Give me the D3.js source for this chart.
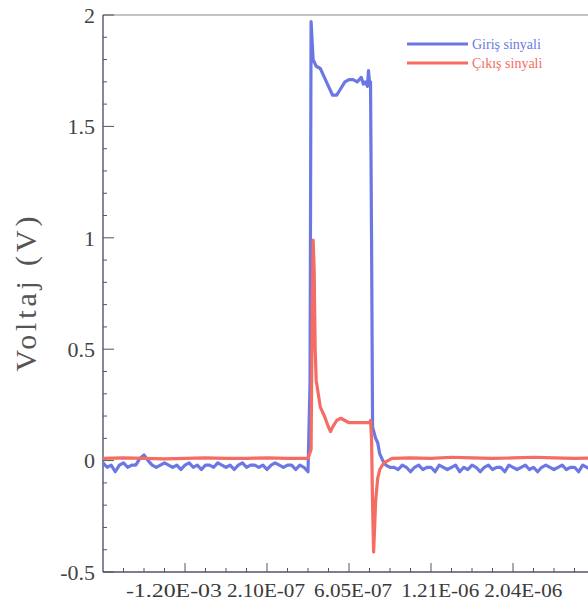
<!DOCTYPE html>
<html>
<head>
<meta charset="utf-8">
<script src="https://cdn.jsdelivr.net/npm/d3@7"></script>
<style>
  body { margin: 0; background: #fff; }
</style>
</head>
<body>
<script>
// sample index (time) and voltage for the input signal
const girisT = [0,2,4,6,8,10,12,14,16,18,20,22,24,26,28,30,32,34,36,38,40,42,44,46,48,50,52,54,56,58,60,62,64,66,68,70,72,74,76,78,80,82,84,86,88,90,92,94,96,98,100,
  101,101.5,102.5,104,106,108,110,112,114,116,118,120,122,124,126,127,128,129,129.5,130,130.5,131,131.5,133,134,135,136.5,138,140,
  142,144,146,148,150,152,154,156,158,160,162,164,166,168,170,172,174,176,178,180,182,184,186,188,190,192,194,196,198,200,202,204,206,208,210,212,214,216,218,220,222,224,226,228,230,232,234,236,238,240];
const girisV = [-0.01,-0.03,-0.02,-0.05,-0.02,-0.01,-0.03,-0.02,-0.02,0.01,
  0.025,0.0,-0.02,-0.03,-0.02,-0.01,-0.02,-0.03,-0.02,-0.04,
  -0.02,-0.01,-0.03,-0.02,-0.04,-0.02,-0.02,-0.03,-0.01,-0.02,
  -0.03,-0.02,-0.04,-0.02,-0.01,-0.03,-0.02,-0.02,-0.03,-0.02,
  -0.04,-0.02,-0.01,-0.02,-0.03,-0.02,-0.02,-0.04,-0.02,-0.03,-0.05,
  0.35,1.97,1.80,1.77,1.76,1.72,1.68,1.64,1.64,1.67,1.70,1.71,1.71,1.70,1.72,1.69,1.70,1.68,1.75,1.70,1.70,1.00,0.15,0.10,0.08,0.03,0.0,-0.02,-0.03,
  -0.03,-0.04,-0.02,-0.03,-0.05,-0.03,-0.02,-0.04,-0.03,-0.03,
  -0.05,-0.02,-0.03,-0.04,-0.03,-0.02,-0.05,-0.03,-0.04,-0.02,
  -0.03,-0.05,-0.03,-0.02,-0.04,-0.03,-0.03,-0.05,-0.02,-0.03,
  -0.04,-0.03,-0.02,-0.04,-0.03,-0.05,-0.03,-0.02,-0.03,-0.04,
  -0.03,-0.02,-0.04,-0.03,-0.03,-0.05,-0.02,-0.03,-0.04,-0.03];

// output signal
const cikisT = [0,10,20,30,40,50,60,70,80,90,100,
  101.5,102,102.5,103,103.5,104,105,106,107,108,110,111,112,114,116,118,120,124,128,130,130.5,131,131.5,132,132.5,133,134,135,137,139,141,
  150,160,170,180,190,200,210,220,230,240];
const cikisV = [0.01,0.012,0.01,0.008,0.01,0.012,0.01,0.01,0.012,0.01,0.01,
  0.05,0.6,0.99,0.86,0.5,0.36,0.30,0.24,0.22,0.20,0.15,0.13,0.15,0.18,0.19,0.18,0.17,0.17,0.17,0.17,0.18,0.10,-0.20,-0.41,-0.30,-0.18,-0.08,-0.04,-0.01,0.0,0.01,
  0.012,0.01,0.015,0.012,0.01,0.012,0.015,0.012,0.01,0.012];

const xLabels = ["-1.20E-03", "2.10E-07", "6.05E-07", "1.21E-06", "2.04E-06"];
const xLabelAt = [34.6, 79.5, 122, 164.5, 205];
const yTicks = [-0.5, 0, 0.5, 1, 1.5, 2];
const seriesNames = ["Giriş sinyali", "Çıkış sinyali"];

const width = 588, height = 609;
const blue = "#6b78e4", red = "#f46c62";
const serif = "'Liberation Serif', 'Times New Roman', Times, serif";

const svg = d3.select("body").append("svg")
    .attr("width", width)
    .attr("height", height)
    .attr("font-family", serif);

const x = d3.scaleLinear().domain([0, 240]).range([103, 595]);
const y = d3.scaleLinear().domain([-0.5, 2]).range([572, 15]);

// frame top line
svg.append("line")
    .attr("x1", x(0)).attr("x2", width)
    .attr("y1", y(2)).attr("y2", y(2))
    .attr("stroke", "#8a8a8a").attr("stroke-width", 1.2);

// y axis, ticks pointing inward
const yMinor = d3.range(-0.5, 2.001, 0.1);
svg.append("g")
    .selectAll("line")
    .data(yMinor)
    .enter().append("line")
    .attr("x1", x(0))
    .attr("x2", (d) => x(0) + (Math.abs(d * 2 - Math.round(d * 2)) < 1e-6 ? 11 : 4))
    .attr("y1", (d) => y(d)).attr("y2", (d) => y(d))
    .attr("stroke", "#555").attr("stroke-width", 1);

svg.append("line")
    .attr("x1", x(0)).attr("x2", x(0))
    .attr("y1", y(2)).attr("y2", y(-0.5))
    .attr("stroke", "#4e5570").attr("stroke-width", 1.4);

svg.append("g")
    .selectAll("text")
    .data(yTicks)
    .enter().append("text")
    .attr("x", 95)
    .attr("y", (d) => y(d))
    .attr("dy", "0.35em")
    .attr("text-anchor", "end")
    .attr("font-size", 22)
    .attr("fill", "#444")
    .text((d) => d);

// x axis, ticks pointing up
const xMinor = d3.range(10, 241, 10);
svg.append("g")
    .selectAll("line")
    .data(xMinor)
    .enter().append("line")
    .attr("x1", (d) => x(d)).attr("x2", (d) => x(d))
    .attr("y1", y(-0.5))
    .attr("y2", (d) => y(-0.5) - (d % 40 === 0 ? 9 : 4))
    .attr("stroke", "#555").attr("stroke-width", 1);

svg.append("line")
    .attr("x1", x(0)).attr("x2", width)
    .attr("y1", y(-0.5)).attr("y2", y(-0.5))
    .attr("stroke", "#4e5570").attr("stroke-width", 1.4);

svg.append("g")
    .selectAll("text")
    .data(xLabels)
    .enter().append("text")
    .attr("x", (d, i) => x(xLabelAt[i]))
    .attr("y", 597)
    .attr("text-anchor", "middle")
    .attr("font-size", 19)
    .attr("fill", "#3a3a3a")
    .attr("textLength", (d) => d.length > 8 ? 96 : 78)
    .attr("lengthAdjust", "spacingAndGlyphs")
    .text((d) => d);

// y title
svg.append("text")
    .attr("transform", "translate(36,294) rotate(-90)")
    .attr("text-anchor", "middle")
    .attr("font-size", 30)
    .attr("fill", "#555")
    .attr("textLength", 155)
    .attr("lengthAdjust", "spacing")
    .text("Voltaj (V)");

// signals
const line = d3.line()
    .x((d) => x(d[0]))
    .y((d) => y(d[1]));

svg.append("path")
    .datum(d3.zip(girisT, girisV))
    .attr("d", line)
    .attr("fill", "none")
    .attr("stroke", blue)
    .attr("stroke-width", 3.2)
    .attr("stroke-linejoin", "round");

svg.append("path")
    .datum(d3.zip(cikisT, cikisV))
    .attr("d", line)
    .attr("fill", "none")
    .attr("stroke", red)
    .attr("stroke-width", 3.2)
    .attr("stroke-linejoin", "round");

// legend
const legend = svg.append("g");
[blue, red].forEach((c, i) => {
    const ly = 44 + i * 19;
    legend.append("line")
        .attr("x1", 407).attr("x2", 468)
        .attr("y1", ly).attr("y2", ly)
        .attr("stroke", c).attr("stroke-width", 3);
    legend.append("text")
        .attr("x", 472).attr("y", ly)
        .attr("dy", "0.35em")
        .attr("font-size", 14)
        .attr("fill", c)
        .text(seriesNames[i]);
});
</script>
</body>
</html>
